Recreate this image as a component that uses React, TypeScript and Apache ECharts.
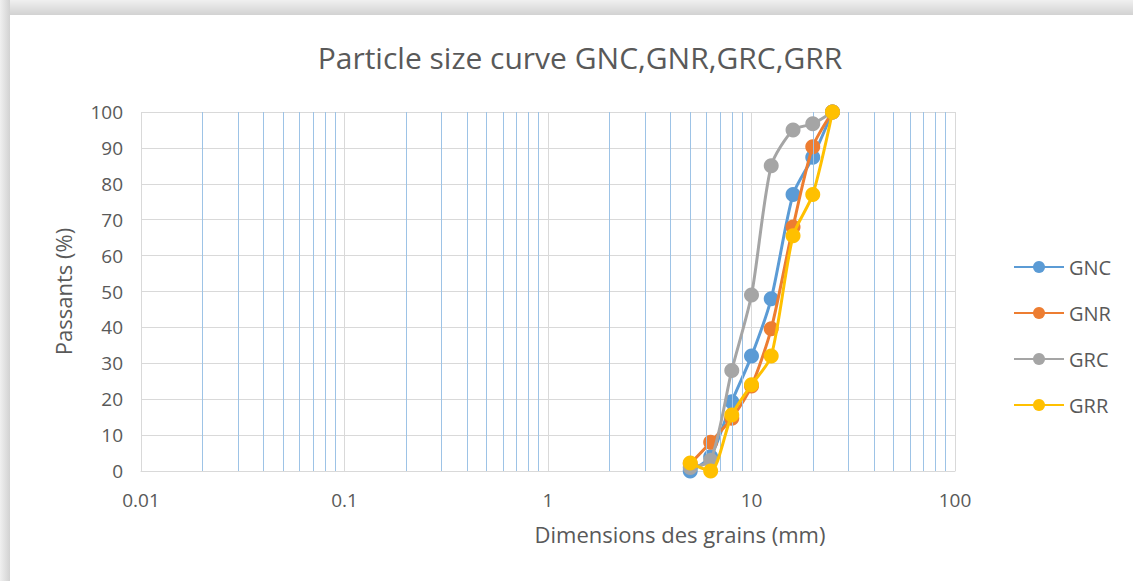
import React, { useEffect, useRef } from "react";
import * as echarts from "echarts";

const sieves = [5, 6.3, 8, 10, 12.5, 16, 20, 25];
const GNC = [0, 4, 19.3, 32, 48, 77, 87.4, 100];
const GNR = [2, 8, 14.7, 23.7, 39.6, 68, 90.3, 100];
const GRC = [1, 3, 28, 49, 85, 95, 96.7, 100];
const GRR = [2.2, 0, 15.6, 24, 32, 65.5, 77, 100];
const seriesNames = ["GNC", "GNR", "GRC", "GRR"];
const seriesColors = ["#5b9bd5", "#ed7d31", "#a5a5a5", "#ffc000"];
const minorLines = [
  0.02, 0.03, 0.04, 0.05, 0.06, 0.07, 0.08, 0.09,
  0.2, 0.3, 0.4, 0.5, 0.6, 0.7, 0.8, 0.9,
  2, 3, 4, 5, 6, 7, 8, 9,
  20, 30, 40, 50, 60, 70, 80, 90,
];

const FONT = "'Open Sans', sans-serif";
const TXT = "#595959";

export default function App() {
  const ref = useRef<HTMLDivElement>(null);
  useEffect(() => {
    document.body.style.margin = "0";
    const chart = echarts.init(ref.current!, null, { renderer: "svg" });
    const data = [GNC, GNR, GRC, GRR];
    const series: any[] = data.map((vals, i) => ({
      name: seriesNames[i],
      type: "line",
      smooth: 0.25,
      data: sieves.map((x, j) => [x, vals[j]]),
      symbol: "circle",
      symbolSize: 15,
      showSymbol: true,
      lineStyle: { width: 3, color: seriesColors[i] },
      itemStyle: { color: seriesColors[i] },
      z: 3 + i,
    }));
    series.unshift({
      name: "minor",
      type: "line",
      data: [],
      silent: true,
      z: 1,
      markLine: {
        silent: true,
        symbol: "none",
        label: { show: false },
        lineStyle: { color: "#9dc3e6", width: 1, type: "solid" },
        emphasis: { disabled: true },
        data: minorLines.map((v) => ({ xAxis: v })),
      },
    });
    chart.setOption({
      animation: false,
      backgroundColor: "#ffffff",
      textStyle: { fontFamily: FONT },
      title: {
        text: "Particle size curve GNC,GNR,GRC,GRR",
        left: 575,
        top: 37,
        textAlign: "center",
        textStyle: { fontFamily: FONT, fontSize: 30, fontWeight: "normal", color: TXT },
      },
      graphic: [
        {
          type: "rect",
          shape: { x: 0, y: 0, width: 1133, height: 15 },
          style: {
            fill: new echarts.graphic.LinearGradient(0, 0, 0, 1, [
              { offset: 0, color: "#f0f0f0" },
              { offset: 1, color: "#d2d2d2" },
            ]),
          },
          silent: true,
        },
        {
          type: "rect",
          shape: { x: 0, y: 0, width: 10, height: 581 },
          style: {
            fill: new echarts.graphic.LinearGradient(0, 0, 1, 0, [
              { offset: 0, color: "#f0f0f0" },
              { offset: 1, color: "#d2d2d2" },
            ]),
          },
          silent: true,
        },
      ],
      legend: {
        orient: "vertical",
        left: 1008,
        top: 252,
        itemWidth: 50,
        itemHeight: 15,
        itemGap: 26,
        data: seriesNames,
        textStyle: { fontFamily: FONT, fontSize: 20, color: TXT },
      },
      grid: { left: 141, right: 178, top: 112, bottom: 110, containLabel: false },
      xAxis: {
        type: "log",
        logBase: 10,
        min: 0.01,
        max: 100,
        name: "Dimensions des grains (mm)",
        nameLocation: "middle",
        nameGap: 52,
        nameTextStyle: { fontFamily: FONT, fontSize: 22, color: TXT, padding: [0, 0, 0, 264] },
        axisLine: { show: true, lineStyle: { color: "#d9d9d9", width: 1 } },
        axisTick: { show: false },
        axisLabel: {
          fontFamily: FONT,
          fontSize: 19,
          color: TXT,
          margin: 19,
          formatter: (v: number) => String(v),
        },
        splitLine: { show: true, lineStyle: { color: "#d9d9d9", width: 1 } },
        minorSplitLine: { show: false },
      },
      yAxis: {
        type: "value",
        min: 0,
        max: 100,
        interval: 10,
        name: "Passants (%)",
        nameLocation: "middle",
        nameGap: 67,
        nameTextStyle: { fontFamily: FONT, fontSize: 22, color: TXT },
        axisLine: { show: false },
        axisTick: { show: false },
        axisLabel: { fontFamily: FONT, fontSize: 19, color: TXT, margin: 18 },
        splitLine: { show: true, lineStyle: { color: "#d9d9d9", width: 1 } },
      },
      series,
    });
    return () => chart.dispose();
  }, []);
  return <div ref={ref} style={{ position: "absolute", left: 0, top: 0, width: 1133, height: 581 }} />;
}
